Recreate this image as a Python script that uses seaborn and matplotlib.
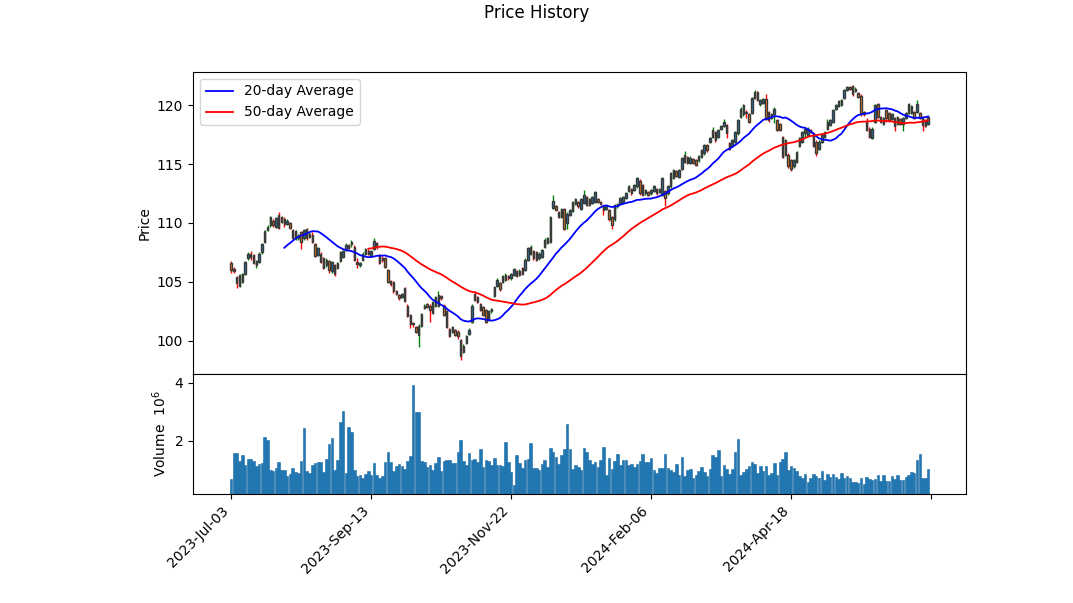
import numpy as np
import pandas as pd
import matplotlib
matplotlib.use("Agg")
import matplotlib.pyplot as plt
import seaborn as sns

# ---------------- data ----------------
holidays = ["2023-07-04", "2023-09-04", "2023-11-23", "2023-12-25", "2024-01-01",
            "2024-01-15", "2024-02-19", "2024-03-29", "2024-05-27", "2024-06-19"]
dates = pd.bdate_range("2023-07-03", "2024-06-28", freq="C", holidays=holidays)

opens = [
    106.6, 106.1, 105.4, 104.7, 105.0, 105.7, 107.0, 107.4, 107.3, 106.4,
    106.7, 107.5, 108.4, 109.4, 109.8, 110.2, 109.7, 110.7, 110.1, 110.3,
    109.9, 110.0, 109.4, 108.7, 108.7, 109.2, 108.7, 109.5, 108.8, 109.0,
    108.2, 107.3, 107.4, 107.0, 106.4, 106.8, 105.9, 106.4, 106.2, 106.8,
    107.1, 107.7, 108.1, 108.2, 108.0, 106.7, 106.4, 106.9, 107.4, 107.6,
    107.2, 107.8, 108.3, 107.3, 107.0, 107.0, 106.0, 105.1, 105.0, 104.2,
    103.9, 103.7, 104.5, 103.0, 102.2, 101.5, 101.2, 100.5, 101.3, 102.8,
    103.1, 103.0, 102.4, 103.0, 103.0, 103.8, 103.0, 102.5, 101.0, 100.8,
    100.9, 100.8, 100.1, 99.1, 99.8, 100.6, 101.6, 104.0, 103.7, 103.1,
    102.9, 102.6, 101.8, 102.5, 103.8, 104.7, 104.9, 105.0, 105.2, 105.5,
    105.3, 105.6, 105.9, 105.6, 106.2, 106.0, 106.9, 107.4, 107.6, 107.5,
    107.0, 107.1, 108.0, 108.3, 108.4, 111.3, 111.4, 110.9, 110.5, 111.2,
    110.0, 110.7, 111.0, 111.6, 111.8, 111.2, 111.7, 112.2, 111.5, 111.7,
    111.8, 112.0, 111.8, 111.4, 111.2, 111.1, 110.5, 110.3, 111.4, 111.7,
    111.8, 112.1, 112.7, 112.9, 112.8, 113.1, 113.6, 113.2, 112.5, 112.6,
    112.5, 112.7, 112.9, 112.6, 112.4, 112.7, 112.5, 113.1, 113.8, 114.4,
    113.9, 114.6, 115.2, 115.6, 115.1, 115.4, 115.3, 115.3, 115.6, 115.9,
    116.6, 116.9, 117.3, 117.7, 117.3, 118.0, 118.2, 118.3, 116.8, 116.5,
    116.9, 117.6, 119.0, 119.2, 119.4, 119.2, 119.3, 120.6, 121.1, 120.1,
    120.2, 120.5, 119.4, 118.9, 119.2, 118.7, 118.4, 117.3, 115.8, 115.8,
    115.3, 114.8, 115.2, 116.5, 116.9, 117.6, 117.5, 117.9, 117.6, 116.9,
    116.3, 116.9, 117.3, 118.0, 118.3, 118.6, 119.7, 119.9, 120.0, 120.6,
    121.3, 121.5, 121.6, 121.2, 121.0, 120.8, 119.4, 118.6, 118.0, 117.2,
    118.6, 120.1, 119.0, 118.4, 119.6, 119.3, 118.8, 118.9, 118.4, 118.8,
    118.4, 118.9, 119.3, 119.3, 119.4, 119.4, 119.3, 119.0, 118.7, 118.4,
]

highs = [
    106.8, 106.3, 105.5, 105.7, 105.8, 106.8, 107.5, 107.6, 107.4, 106.9,
    107.5, 108.3, 109.4, 109.8, 110.6, 110.3, 110.5, 110.9, 110.6, 110.5,
    110.3, 110.1, 109.5, 109.4, 109.1, 109.3, 109.5, 109.6, 109.2, 109.2,
    108.3, 108.0, 107.5, 107.1, 107.0, 106.9, 106.8, 106.5, 106.7, 107.6,
    107.7, 108.3, 108.2, 108.6, 108.1, 107.0, 106.7, 107.5, 107.9, 107.8,
    107.7, 108.7, 108.4, 107.4, 107.2, 107.1, 106.1, 105.2, 105.1, 104.3,
    104.0, 104.1, 104.6, 103.1, 102.3, 101.6, 101.3, 101.4, 102.4, 103.1,
    103.2, 103.1, 103.4, 103.8, 104.2, 103.9, 103.1, 102.6, 101.1, 101.3,
    101.0, 100.9, 100.2, 99.7, 100.5, 101.1, 103.1, 104.2, 103.8, 103.2,
    103.0, 102.7, 102.6, 102.8, 104.7, 105.3, 105.0, 105.6, 105.8, 105.6,
    105.8, 106.2, 106.0, 106.1, 106.3, 107.0, 108.0, 108.1, 107.7, 107.6,
    107.5, 107.8, 108.7, 108.8, 110.6, 112.4, 111.5, 111.0, 111.3, 111.3,
    110.9, 111.2, 111.9, 112.1, 111.9, 112.1, 112.8, 112.3, 112.1, 112.3,
    112.7, 112.1, 111.9, 111.5, 111.5, 111.2, 110.6, 111.6, 111.7, 112.2,
    112.3, 112.6, 113.2, 113.0, 113.3, 113.9, 113.7, 113.3, 112.9, 112.7,
    112.9, 113.2, 113.0, 113.0, 113.9, 112.8, 113.2, 114.3, 114.6, 114.5,
    114.6, 115.6, 116.1, 115.7, 115.7, 115.5, 115.4, 115.8, 116.3, 116.7,
    116.7, 117.3, 118.1, 117.8, 118.0, 118.3, 118.8, 118.4, 116.9, 117.1,
    117.8, 118.8, 119.8, 120.1, 119.6, 119.3, 120.7, 121.3, 121.2, 120.5,
    120.6, 120.9, 119.5, 119.3, 119.8, 118.8, 118.5, 117.4, 117.1, 115.9,
    115.4, 115.4, 116.1, 117.3, 117.8, 118.1, 118.1, 118.0, 117.7, 117.0,
    117.0, 117.6, 117.8, 118.8, 118.8, 119.7, 120.1, 120.4, 120.5, 121.4,
    121.6, 121.6, 121.7, 121.5, 121.1, 120.9, 119.5, 118.9, 118.1, 118.1,
    120.1, 120.2, 119.1, 119.0, 119.7, 119.4, 119.3, 119.0, 119.1, 118.9,
    119.0, 119.4, 120.2, 120.0, 119.5, 120.4, 119.4, 119.1, 118.8, 119.1,
]

lows = [
    105.8, 105.8, 104.5, 104.6, 104.9, 105.6, 106.9, 106.9, 106.5, 106.2,
    106.6, 107.4, 108.3, 109.3, 109.7, 109.7, 109.6, 109.5, 110.0, 109.7,
    109.8, 109.5, 108.6, 108.6, 108.6, 107.8, 108.6, 108.6, 108.7, 108.3,
    107.1, 107.2, 106.6, 106.1, 106.3, 105.8, 105.8, 105.5, 106.1, 106.7,
    107.0, 107.6, 107.8, 108.0, 106.8, 106.2, 106.3, 106.8, 107.3, 107.3,
    107.1, 107.7, 107.8, 106.5, 106.7, 106.2, 104.9, 104.7, 104.1, 103.9,
    103.5, 103.6, 103.3, 102.0, 101.1, 101.2, 100.7, 99.5, 101.2, 102.7,
    102.8, 101.6, 102.3, 102.9, 102.9, 103.5, 102.1, 101.1, 100.3, 100.7,
    100.4, 100.2, 98.4, 99.0, 99.7, 100.5, 101.5, 103.4, 103.2, 102.5,
    102.1, 101.5, 101.7, 102.4, 103.7, 104.6, 104.2, 104.9, 105.1, 105.2,
    105.2, 105.5, 105.4, 105.5, 105.6, 105.9, 106.8, 107.3, 106.9, 106.8,
    106.9, 107.0, 107.9, 108.2, 108.3, 111.2, 111.0, 110.4, 110.4, 109.4,
    109.5, 110.6, 110.9, 111.5, 111.3, 111.1, 111.6, 111.4, 111.4, 111.6,
    111.7, 111.7, 111.5, 110.7, 111.1, 110.2, 109.5, 110.2, 111.3, 111.6,
    111.7, 112.0, 112.6, 112.4, 112.7, 113.0, 112.4, 112.3, 112.4, 112.3,
    112.4, 112.6, 112.4, 112.5, 112.3, 111.4, 112.4, 113.0, 113.7, 113.9,
    113.8, 114.5, 115.1, 115.0, 115.0, 115.0, 114.8, 115.2, 115.5, 115.8,
    116.0, 116.8, 117.2, 116.9, 117.2, 117.9, 118.1, 117.2, 116.2, 116.4,
    116.8, 117.5, 118.9, 119.1, 118.9, 118.5, 119.2, 120.5, 120.3, 119.9,
    120.1, 118.7, 118.6, 118.8, 118.5, 117.8, 117.8, 115.5, 115.7, 114.7,
    114.4, 114.7, 115.1, 116.4, 116.8, 117.3, 117.4, 117.6, 116.4, 115.7,
    116.2, 116.8, 117.2, 117.9, 118.2, 118.5, 119.6, 119.8, 119.9, 120.5,
    121.2, 121.3, 120.8, 121.1, 120.6, 119.1, 119.1, 117.8, 117.2, 117.1,
    118.5, 118.9, 118.5, 118.3, 118.6, 118.6, 118.7, 117.8, 118.3, 118.3,
    117.8, 118.8, 119.2, 119.2, 118.8, 119.3, 118.8, 117.8, 118.1, 118.3,
]

closes = [
    106.0, 105.9, 104.9, 105.6, 105.7, 106.7, 107.4, 107.1, 106.6, 106.8,
    107.4, 108.2, 109.3, 109.7, 110.5, 109.8, 110.4, 109.6, 110.5, 109.9,
    110.2, 109.6, 108.7, 109.3, 109.0, 108.4, 109.4, 108.7, 109.1, 108.4,
    107.2, 107.9, 106.7, 106.2, 106.9, 106.0, 106.7, 105.7, 106.6, 107.5,
    107.6, 108.1, 107.9, 108.4, 106.9, 106.5, 106.6, 107.4, 107.8, 107.4,
    107.6, 108.5, 108.0, 106.6, 106.9, 106.3, 105.0, 104.8, 104.2, 104.0,
    103.6, 104.0, 103.4, 102.1, 101.4, 101.4, 100.8, 101.3, 102.3, 103.0,
    102.9, 102.6, 103.3, 103.7, 103.9, 103.6, 102.2, 101.2, 100.4, 101.2,
    100.5, 100.4, 98.7, 99.6, 100.4, 100.9, 103.0, 103.5, 103.3, 102.6,
    102.2, 101.6, 102.5, 102.7, 104.6, 105.2, 104.4, 105.5, 105.6, 105.3,
    105.7, 106.1, 105.5, 105.9, 105.7, 106.9, 107.9, 108.0, 107.0, 106.9,
    107.4, 107.7, 108.6, 108.7, 110.5, 111.9, 111.1, 110.5, 111.2, 109.5,
    110.8, 111.1, 111.8, 112.0, 111.4, 112.0, 112.4, 111.5, 112.0, 112.2,
    112.6, 111.8, 111.6, 111.1, 111.4, 110.3, 109.8, 111.5, 111.6, 112.1,
    112.2, 112.5, 113.1, 112.5, 113.2, 113.8, 112.5, 112.4, 112.8, 112.4,
    112.8, 113.1, 112.5, 112.9, 113.8, 112.1, 113.1, 114.2, 114.5, 114.0,
    114.5, 115.5, 115.8, 115.1, 115.5, 115.1, 114.9, 115.7, 116.2, 116.6,
    116.2, 117.2, 117.9, 117.0, 117.9, 118.2, 118.6, 117.6, 116.3, 117.0,
    117.7, 118.7, 119.7, 120.0, 119.3, 118.6, 120.6, 121.1, 120.4, 120.4,
    120.5, 118.8, 118.7, 119.2, 119.7, 117.9, 117.9, 115.6, 117.0, 114.8,
    114.6, 115.3, 116.0, 117.2, 117.7, 118.0, 118.0, 117.7, 116.5, 115.9,
    116.9, 117.5, 117.7, 118.6, 118.7, 119.6, 120.0, 120.3, 120.4, 121.3,
    121.5, 121.4, 120.9, 121.4, 120.7, 119.2, 119.2, 117.9, 117.3, 118.0,
    120.0, 119.0, 118.6, 118.9, 118.9, 118.7, 119.2, 118.2, 119.0, 118.4,
    118.9, 119.3, 120.1, 119.9, 118.9, 120.1, 118.9, 118.3, 118.2, 119.0,
]

volume_millions = [
    0.69, 1.59, 1.59, 1.31, 1.52, 1.17, 1.38, 1.38, 1.31, 1.14,
    1.21, 1.24, 2.14, 2.04, 1.00, 0.97, 1.07, 1.28, 1.00, 1.00,
    0.79, 0.86, 1.07, 0.93, 0.90, 1.31, 2.45, 0.97, 0.90, 1.17,
    1.24, 1.28, 1.28, 0.93, 1.38, 1.90, 2.10, 1.00, 1.35, 2.66,
    3.03, 0.90, 2.48, 2.31, 1.00, 0.79, 0.83, 0.72, 0.86, 0.97,
    0.83, 1.24, 0.83, 0.72, 0.79, 1.28, 1.62, 1.28, 0.97, 1.14,
    1.21, 1.14, 1.03, 1.31, 1.48, 3.93, 3.00, 3.00, 1.31, 1.28,
    1.10, 1.17, 1.00, 1.24, 1.45, 0.97, 1.31, 1.35, 1.35, 1.24,
    1.24, 1.62, 2.03, 1.31, 1.17, 1.59, 1.35, 1.38, 1.28, 1.72,
    1.10, 1.35, 1.31, 1.17, 1.41, 1.17, 1.17, 1.14, 1.97, 1.28,
    0.93, 0.48, 1.52, 1.24, 1.07, 1.35, 1.38, 1.93, 1.07, 1.07,
    1.00, 1.21, 1.35, 1.10, 1.76, 1.62, 1.45, 1.21, 1.52, 1.72,
    2.59, 1.72, 1.03, 1.17, 1.10, 1.00, 1.76, 1.62, 1.35, 1.21,
    1.28, 1.10, 1.35, 1.79, 0.83, 1.41, 1.03, 1.31, 1.55, 1.17,
    1.35, 1.35, 1.17, 1.21, 1.10, 1.21, 1.31, 1.55, 1.28, 1.28,
    1.41, 1.00, 0.90, 1.07, 1.07, 1.55, 1.07, 1.00, 0.93, 1.21,
    0.83, 1.45, 0.79, 1.00, 1.03, 0.72, 0.83, 0.97, 1.10, 0.93,
    0.79, 1.03, 1.52, 1.45, 1.69, 0.79, 1.17, 1.03, 0.86, 1.03,
    1.62, 2.07, 0.83, 0.93, 1.03, 1.14, 1.28, 1.21, 0.90, 1.14,
    0.97, 1.14, 0.83, 0.90, 1.24, 0.83, 1.28, 1.38, 1.62, 1.00,
    1.14, 1.07, 0.97, 0.79, 0.72, 0.86, 0.59, 0.72, 0.86, 0.79,
    0.72, 0.97, 0.66, 0.86, 0.76, 0.86, 0.76, 0.69, 0.90, 0.72,
    0.79, 0.72, 0.59, 0.59, 0.55, 0.72, 0.52, 0.76, 0.69, 0.66,
    0.69, 0.83, 0.62, 0.83, 0.62, 0.62, 0.79, 0.69, 0.83, 0.66,
    0.66, 0.76, 0.83, 0.93, 0.90, 1.35, 1.55, 0.72, 0.72, 1.03,
]

tick_positions = [0, 50, 100, 150, 200, 250]

# ---------------- build frame ----------------
n = len(closes)
df = pd.DataFrame({
    "idx": np.arange(n),
    "open": opens, "high": highs, "low": lows, "close": closes,
    "volume": volume_millions,
})
df["ma20"] = df["close"].rolling(20).mean()
df["ma50"] = df["close"].rolling(50).mean()
up = df["close"] >= df["open"]

# ---------------- figure ----------------
fig = plt.figure(figsize=(10.73, 6.03), dpi=100)
ax = fig.add_axes([0.1799, 0.3798, 0.7204, 0.5008])
axv = fig.add_axes([0.1799, 0.1808, 0.7204, 0.1990], sharex=ax)

# candles
ax.vlines(df["idx"], df["low"], df["high"],
          colors=np.where(up, "green", "red"), linewidth=1.0, zorder=2)
ax.bar(df["idx"], df["close"] - df["open"], bottom=df["open"], width=0.55,
       color=np.where(up, "#1f77b4", "#ff7f0e"), edgecolor="#3a3a3a",
       linewidth=1.0, zorder=3)

# moving averages
m20 = df.dropna(subset=["ma20"])
m50 = df.dropna(subset=["ma50"])
sns.lineplot(data=m20, x="idx", y="ma20", ax=ax, color="blue",
             linewidth=1.3, label="20-day Average", zorder=4)
sns.lineplot(data=m50, x="idx", y="ma50", ax=ax, color="red",
             linewidth=1.3, label="50-day Average", zorder=4)

ax.set_xlim(-13.6, 262.5)
ax.set_ylim(97.2, 122.8)
ax.set_yticks([100, 105, 110, 115, 120])
ax.set_ylabel("Price")
ax.set_xlabel("")
ax.tick_params(axis="x", bottom=False, labelbottom=False)
ax.legend(loc="upper left")

# volume
axv.bar(df["idx"], df["volume"], width=0.9, color="#1f77b4",
        edgecolor="#1b6aa0", linewidth=0.4)
axv.set_ylim(0.17, 4.31)
axv.set_yticks([2, 4])
axv.set_ylabel("Volume  $10^{6}$")
axv.set_xticks(tick_positions)
labels = [dates[i].strftime("%Y-%b-%d") if i < n else "" for i in tick_positions]
axv.set_xticklabels(labels, rotation=45, ha="right")

fig.suptitle("Price History", y=0.993)
fig.savefig("out.png", dpi=100)
